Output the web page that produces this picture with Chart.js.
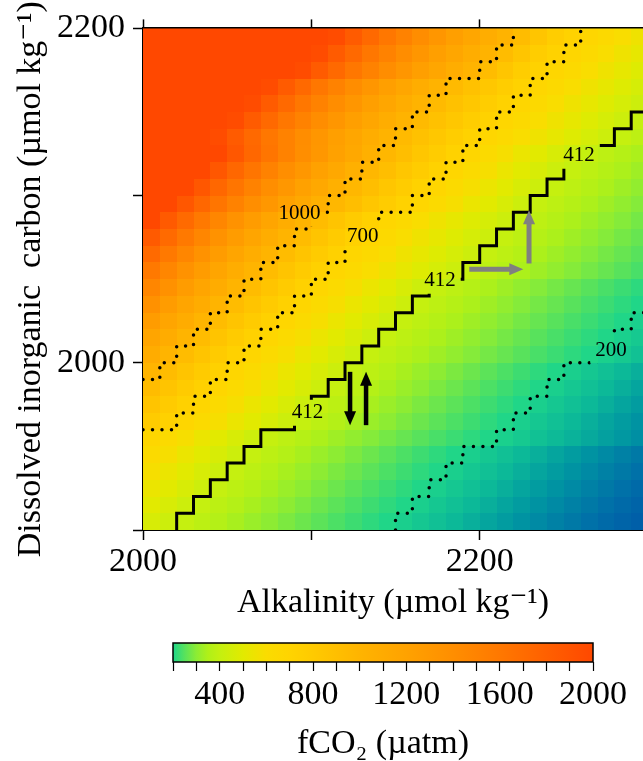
<!DOCTYPE html>
<html>
<head>
<meta charset="utf-8">
<title>fCO2 vs alkalinity and DIC</title>
<script src="https://cdn.jsdelivr.net/npm/chart.js@4.4.0/dist/chart.umd.min.js"></script>
<style>
  html, body { margin: 0; padding: 0; background: #fff; }
  #wrap { position: relative; width: 643px; height: 761px; overflow: hidden; }
  #mainBox { position: absolute; left: 0; top: 0; width: 643px; height: 620px; }
  #barBox { position: absolute; left: 0; top: 620px; width: 643px; height: 141px; }
</style>
</head>
<body>
<div id="wrap">
  <div id="mainBox"><canvas id="mainChart"></canvas></div>
  <div id="barBox"><canvas id="barChart"></canvas></div>
</div>
<script>
// Grid cells: left edge of each alkalinity column, bottom edge of each DIC row (µmol kg-1)
const alkCells = [2000, 2010, 2020, 2030, 2040, 2050, 2060, 2070, 2080, 2090,
                  2100, 2110, 2120, 2130, 2140, 2150, 2160, 2170, 2180, 2190,
                  2200, 2210, 2220, 2230, 2240, 2250, 2260, 2270, 2280, 2290];
const dicCells = [1900, 1910, 1920, 1930, 1940, 1950, 1960, 1970, 1980, 1990,
                  2000, 2010, 2020, 2030, 2040, 2050, 2060, 2070, 2080, 2090,
                  2100, 2110, 2120, 2130, 2140, 2150, 2160, 2170, 2180, 2190];
const cellStep = 10;

// fCO2 (µatm), one row per DIC cell (bottom row first)
const fco2Rows = [
  [462,428,402,380,359,339,320,302,285,269,254,240,227,214,202,191,180,170,161,152,143,135,128,121,114,108,102,96,91,86],
  [499,462,428,402,380,359,339,320,302,285,269,254,240,227,214,202,191,180,170,161,152,143,135,128,121,114,108,102,96,91],
  [539,499,462,428,402,380,359,339,320,302,285,269,254,240,227,214,202,191,180,170,161,152,143,135,128,121,114,108,102,96],
  [583,539,499,462,428,402,380,359,339,320,302,285,269,254,240,227,214,202,191,180,170,161,152,143,135,128,121,114,108,102],
  [629,583,539,499,462,428,402,380,359,339,320,302,285,269,254,240,227,214,202,191,180,170,161,152,143,135,128,121,114,108],
  [680,629,583,539,499,462,428,404,383,363,344,326,309,293,278,264,250,237,225,213,202,192,182,172,163,155,147,139,132,125],
  [791,730,680,629,583,539,499,462,428,402,380,359,339,320,302,285,269,254,240,227,214,202,191,180,170,161,152,143,135,128],
  [856,791,730,680,629,583,539,499,462,428,402,380,359,339,320,302,285,269,254,240,227,214,202,191,180,170,161,152,143,135],
  [927,856,791,730,680,629,583,539,499,462,428,402,380,359,339,320,302,285,269,254,240,227,214,202,191,180,170,161,152,143],
  [1004,927,856,791,730,680,629,583,539,499,462,428,402,380,359,339,320,302,285,269,254,240,227,214,202,191,180,170,161,152],
  [1084,1004,927,856,791,730,680,629,583,539,499,462,428,404,383,363,344,326,309,293,278,264,250,237,225,213,202,192,182,172],
  [1171,1084,1004,927,856,791,730,680,629,583,539,499,462,428,404,383,363,344,326,309,293,278,264,250,237,225,213,202,192,182],
  [1265,1171,1084,1004,927,856,791,730,680,629,583,539,499,462,428,404,383,363,344,326,309,293,278,264,250,237,225,213,202,192],
  [1366,1265,1171,1084,1004,927,856,791,730,680,629,583,539,499,462,428,404,383,363,344,326,309,293,278,264,250,237,225,213,202],
  [1475,1366,1265,1171,1084,1004,927,856,791,730,680,629,583,539,499,462,428,404,383,363,344,326,309,293,278,264,250,237,225,213],
  [1590,1472,1363,1262,1168,1082,1002,925,855,790,730,680,636,595,556,520,487,455,426,404,383,363,344,326,309,293,278,264,250,237],
  [1717,1590,1472,1363,1262,1168,1082,1002,925,855,790,730,680,636,595,556,520,487,455,426,404,383,363,344,326,309,293,278,264,250],
  [1854,1717,1590,1472,1363,1262,1168,1082,1002,925,855,790,730,680,636,595,556,520,487,455,426,404,383,363,344,326,309,293,278,264],
  [2002,1854,1717,1590,1472,1363,1262,1168,1082,1002,925,855,790,730,680,636,595,556,520,487,455,426,404,383,363,344,326,309,293,278],
  [2168,2017,1876,1745,1623,1510,1404,1306,1215,1130,1050,977,905,838,777,720,680,629,583,539,499,462,428,404,383,363,344,326,309,293],
  [2330,2168,2017,1876,1745,1623,1510,1404,1306,1215,1130,1050,977,905,838,777,720,680,629,583,539,499,462,428,404,383,363,344,326,309],
  [2505,2330,2168,2017,1876,1745,1623,1510,1404,1306,1215,1130,1050,977,905,838,777,720,680,629,583,539,499,462,428,404,383,363,344,326],
  [2693,2505,2330,2168,2017,1876,1745,1623,1510,1404,1306,1215,1130,1050,977,905,838,777,720,680,629,583,539,499,462,428,404,383,363,344],
  [2571,2405,2250,2105,1969,1842,1723,1612,1508,1411,1320,1235,1155,1080,1010,945,884,828,775,725,680,636,595,556,520,487,455,426,404,383],
  [2748,2571,2405,2250,2105,1969,1842,1723,1612,1508,1411,1320,1235,1155,1080,1010,945,884,828,775,725,680,636,595,556,520,487,455,426,404],
  [2938,2748,2571,2405,2250,2105,1969,1842,1723,1612,1508,1411,1320,1235,1155,1080,1010,945,884,828,775,725,680,636,595,556,520,487,455,426],
  [3141,2938,2748,2571,2405,2250,2105,1969,1842,1723,1612,1508,1411,1320,1235,1155,1080,1010,945,884,828,775,725,680,636,595,556,520,487,455],
  [3590,3358,3141,2938,2748,2571,2405,2250,2105,1969,1842,1723,1612,1508,1411,1320,1235,1155,1080,1010,930,845,775,725,680,636,595,556,520,487],
  [3838,3590,3358,3141,2938,2748,2571,2405,2250,2105,1969,1842,1723,1612,1508,1411,1320,1235,1155,1080,1010,930,845,775,725,680,636,595,556,520],
  [4103,3838,3590,3358,3141,2938,2748,2571,2405,2250,2105,1969,1842,1723,1612,1508,1411,1320,1235,1155,1080,1010,930,845,775,725,680,636,595,556]
];

// Contour levels: 412 is drawn solid, the others dotted
const contourLevels = [1000, 700, 412, 200];
const contourSolid = [false, false, true, false];

// Contour labels
const contourLabelText = ['1000', '700', '412', '412', '412', '200'];
const contourLabelAlk = [2093, 2130.5, 2097.7, 2176.4, 2259, 2278];
const contourLabelDic = [2089.3, 2075.4, 1970.2, 2049.1, 2123.8, 2007.3];

// Arrows (from -> to, in data units)
const arrowFromAlk = [2123, 2132.5, 2193.8, 2229.3];
const arrowFromDic = [1994.6, 1962.7, 2056, 2059.4];
const arrowToAlk = [2123, 2132.5, 2225.9, 2229.3];
const arrowToDic = [1962.7, 1994.6, 2056, 2091.2];
const arrowColor = ['#000000', '#000000', '#808080', '#808080'];

// Axis ticks
const alkTicks = [2000, 2100, 2200];
const alkTickLabels = [2000, 2200];
const dicTicks = [1900, 2000, 2100, 2200];
const dicTickLabels = [2000, 2200];
const barTicks = [200, 300, 400, 500, 600, 700, 800, 900, 1000, 1100, 1200, 1300, 1400, 1500, 1600, 1700, 1800, 1900, 2000];
const barTickLabels = [400, 800, 1200, 1600, 2000];

// Colour map (values below 200 continue into blue as in the picture)
const cmapValues = [80, 100, 130, 160, 200, 250, 300, 350, 400, 500, 600, 700, 800, 1000, 1200, 1400, 1600, 1800, 2000];
const cmapColors = ['#0058a8', '#006ea8', '#0096a2', '#0cb898', '#1ed68a', '#58e25c', '#8cec34', '#b0f018', '#c4f010',
                    '#e2ea00', '#fadc00', '#ffd400', '#ffca00', '#ffb400', '#ffa200', '#ff8e00', '#ff7800', '#ff6000', '#ff4800'];

const serif = "'Liberation Serif', 'DejaVu Serif', 'Times New Roman', serif";
Chart.defaults.font.family = serif;
Chart.defaults.color = '#000';

function hexToRgb(h) {
  return [parseInt(h.slice(1, 3), 16), parseInt(h.slice(3, 5), 16), parseInt(h.slice(5, 7), 16)];
}

function colorFor(v) {
  if (v <= cmapValues[0]) return cmapColors[0];
  for (let i = 1; i < cmapValues.length; i++) {
    if (v <= cmapValues[i]) {
      const t = (v - cmapValues[i - 1]) / (cmapValues[i] - cmapValues[i - 1]);
      const a = hexToRgb(cmapColors[i - 1]), b = hexToRgb(cmapColors[i]);
      return 'rgb(' + a.map((c, k) => Math.round(c + (b[k] - c) * t)).join(',') + ')';
    }
  }
  return cmapColors[cmapColors.length - 1];
}

// Build a stepped contour along the cell edges for one level
function contourPoints(level) {
  const nCols = alkCells.length;
  const edgeX = n => (n < nCols ? alkCells[n] : alkCells[nCols - 1] + cellStep);
  const b = fco2Rows.map(row => {
    let n = 0;
    while (n < nCols && row[n] >= level) n++;
    return n;
  });
  const pts = [];
  let r = 0;
  while (r < fco2Rows.length) {
    if (b[r] === 0 || b[r] === nCols) { r++; continue; }
    const start = r;
    while (r < fco2Rows.length && b[r] > 0 && b[r] < nCols) r++;
    const end = r - 1;
    if (start > 0) pts.push({x: edgeX(b[start - 1]), y: dicCells[start]});
    for (let i = start; i <= end; i++) {
      pts.push({x: edgeX(b[i]), y: dicCells[i]});
      pts.push({x: edgeX(b[i]), y: dicCells[i] + cellStep});
    }
    if (end < fco2Rows.length - 1) pts.push({x: edgeX(b[end + 1]), y: dicCells[end] + cellStep});
    pts.push({x: null, y: null});
  }
  return pts;
}

function drawArrow(ctx, x0, y0, x1, y1, color, shaft, headW, headL) {
  const dx = x1 - x0, dy = y1 - y0, len = Math.hypot(dx, dy);
  const ux = dx / len, uy = dy / len;
  const bx = x1 - ux * headL, by = y1 - uy * headL;
  ctx.strokeStyle = color;
  ctx.lineWidth = shaft;
  ctx.lineCap = 'butt';
  ctx.beginPath();
  ctx.moveTo(x0, y0);
  ctx.lineTo(bx + ux, by + uy);
  ctx.stroke();
  ctx.fillStyle = color;
  ctx.beginPath();
  ctx.moveTo(x1, y1);
  ctx.lineTo(bx - uy * headW / 2, by + ux * headW / 2);
  ctx.lineTo(bx + uy * headW / 2, by - ux * headW / 2);
  ctx.closePath();
  ctx.fill();
}

const labelFont = '21px ' + serif;

// Heatmap cells drawn under the contours
const heatmapPlugin = {
  id: 'heatmap',
  beforeDatasetsDraw(chart) {
    const {ctx, chartArea: a, scales: {x, y}} = chart;
    ctx.save();
    ctx.beginPath();
    ctx.rect(a.left, a.top, a.right - a.left, a.bottom - a.top);
    ctx.clip();
    fco2Rows.forEach((row, r) => {
      const yb = Math.round(y.getPixelForValue(dicCells[r]));
      const yt = Math.round(y.getPixelForValue(dicCells[r] + cellStep));
      row.forEach((v, c) => {
        const xl = Math.round(x.getPixelForValue(alkCells[c]));
        const xr = Math.round(x.getPixelForValue(alkCells[c] + cellStep));
        ctx.fillStyle = colorFor(v);
        ctx.fillRect(xl, yt, xr - xl, yb - yt);
      });
    });
    ctx.restore();
  }
};

// Leave gaps in the contour lines where labels sit
const labelGapPlugin = {
  id: 'labelGaps',
  beforeDatasetDraw(chart) {
    const {ctx, chartArea: a, scales: {x, y}} = chart;
    ctx.save();
    ctx.font = labelFont;
    ctx.beginPath();
    ctx.rect(a.left, a.top, a.right - a.left, a.bottom - a.top);
    contourLabelText.forEach((t, i) => {
      const cx = x.getPixelForValue(contourLabelAlk[i]);
      const cy = y.getPixelForValue(contourLabelDic[i]);
      const w = ctx.measureText(t).width / 2 + 5;
      const h = 13;
      ctx.rect(cx - w, cy - h, 2 * w, 2 * h);
    });
    ctx.clip('evenodd');
  },
  afterDatasetDraw(chart) {
    chart.ctx.restore();
  }
};

// Contour labels and arrows
const overlayPlugin = {
  id: 'overlay',
  afterDatasetsDraw(chart) {
    const {ctx, scales: {x, y}} = chart;
    ctx.save();
    ctx.font = labelFont;
    ctx.fillStyle = '#000';
    ctx.textAlign = 'center';
    ctx.textBaseline = 'middle';
    contourLabelText.forEach((t, i) => {
      ctx.fillText(t, x.getPixelForValue(contourLabelAlk[i]), y.getPixelForValue(contourLabelDic[i]));
    });
    arrowFromAlk.forEach((_, i) => {
      const gray = arrowColor[i] !== '#000000';
      drawArrow(ctx,
        x.getPixelForValue(arrowFromAlk[i]), y.getPixelForValue(arrowFromDic[i]),
        x.getPixelForValue(arrowToAlk[i]), y.getPixelForValue(arrowToDic[i]),
        arrowColor[i], gray ? 5 : 4.5, gray ? 12 : 12, 14);
    });
    ctx.restore();
  }
};

const tickFont = {family: serif, size: 34};
const titleFont = {family: serif, size: 34, lineHeight: 1.2};

const mainAxisGrid = {
  display: true,
  drawOnChartArea: false,
  drawTicks: true,
  tickLength: 10,
  tickWidth: 1.5,
  tickColor: '#000',
  color: '#000'
};

new Chart(document.getElementById('mainChart'), {
  type: 'scatter',
  data: {
    datasets: contourLevels.map((lv, i) => ({
      label: String(lv),
      data: contourPoints(lv),
      showLine: true,
      spanGaps: false,
      pointRadius: 0,
      tension: 0,
      borderColor: '#000',
      borderWidth: contourSolid[i] ? 3 : 3.5,
      borderDash: contourSolid[i] ? [] : [0, 9.5],
      borderCapStyle: contourSolid[i] ? 'square' : 'round',
      borderJoinStyle: 'miter'
    }))
  },
  options: {
    responsive: true,
    maintainAspectRatio: false,
    animation: false,
    events: [],
    layout: {padding: 0},
    plugins: {legend: {display: false}, tooltip: {enabled: false}},
    scales: {
      x: {
        type: 'linear',
        position: 'bottom',
        min: 2000,
        max: 2297,
        z: 1,
        afterBuildTicks: s => { s.ticks = alkTicks.map(v => ({value: v})); },
        afterFit: s => { s.height = 90; },
        ticks: {
          font: tickFont,
          padding: 2,
          maxRotation: 0,
          autoSkip: false,
          callback: v => (alkTickLabels.includes(v) ? String(v) : '')
        },
        grid: mainAxisGrid,
        border: {display: true, color: '#000', width: 2},
        title: {display: true, text: 'Alkalinity (µmol kg⁻¹)', font: {family: serif, size: 34, lineHeight: 1.0}, padding: {top: 0, bottom: 0}}
      },
      x2: {
        type: 'linear',
        position: 'top',
        min: 2000,
        max: 2297,
        z: 1,
        afterBuildTicks: s => { s.ticks = alkTicks.map(v => ({value: v})); },
        afterFit: s => { s.height = 28; },
        ticks: {display: false},
        grid: Object.assign({}, mainAxisGrid, {tickLength: 9}),
        border: {display: true, color: '#000', width: 2}
      },
      y: {
        type: 'linear',
        position: 'left',
        min: 1900,
        max: 2200,
        z: 1,
        afterBuildTicks: s => { s.ticks = dicTicks.map(v => ({value: v})); },
        afterFit: s => { s.width = 143; },
        ticks: {
          font: tickFont,
          padding: 8,
          autoSkip: false,
          callback: v => (dicTickLabels.includes(v) ? String(v) : '')
        },
        grid: mainAxisGrid,
        border: {display: true, color: '#000', width: 2},
        title: {display: true, text: 'Dissolved inorganic  carbon (µmol kg⁻¹)', font: titleFont, padding: {top: 11, bottom: 0}}
      }
    }
  },
  plugins: [heatmapPlugin, labelGapPlugin, overlayPlugin]
});

// Colour bar: gradient across the chart area of a second chart
const colorbarPlugin = {
  id: 'colorbar',
  beforeDatasetsDraw(chart) {
    const {ctx, chartArea: a, scales: {x}} = chart;
    const g = ctx.createLinearGradient(a.left, 0, a.right, 0);
    cmapValues.forEach((v, i) => {
      if (v >= x.min && v <= x.max) {
        g.addColorStop((x.getPixelForValue(v) - a.left) / (a.right - a.left), cmapColors[i]);
      }
    });
    ctx.save();
    ctx.fillStyle = g;
    ctx.fillRect(a.left, a.top, a.right - a.left, a.bottom - a.top);
    ctx.strokeStyle = '#000';
    ctx.lineWidth = 1.5;
    ctx.strokeRect(a.left, a.top, a.right - a.left, a.bottom - a.top);
    ctx.restore();
  }
};

new Chart(document.getElementById('barChart'), {
  type: 'scatter',
  data: {datasets: [{data: []}]},
  options: {
    responsive: true,
    maintainAspectRatio: false,
    animation: false,
    events: [],
    layout: {padding: {left: 173, right: 50, top: 23, bottom: 0}},
    plugins: {legend: {display: false}, tooltip: {enabled: false}},
    scales: {
      x: {
        type: 'linear',
        min: 200,
        max: 2000,
        afterBuildTicks: s => { s.ticks = barTicks.map(v => ({value: v})); },
        afterFit: s => { s.height = 99; },
        ticks: {
          font: tickFont,
          padding: 4,
          maxRotation: 0,
          autoSkip: false,
          callback: v => (barTickLabels.includes(v) ? String(v) : '')
        },
        grid: {display: true, drawOnChartArea: false, drawTicks: true, tickLength: 9, tickWidth: 1.2, tickColor: '#000', color: '#000'},
        border: {display: false},
        title: {display: true, text: 'fCO₂ (µatm)', font: {family: serif, size: 34, lineHeight: 1.0}, padding: {top: 0, bottom: 0}}
      },
      y: {display: false, min: 0, max: 1}
    }
  },
  plugins: [colorbarPlugin]
});
</script>
</body>
</html>
